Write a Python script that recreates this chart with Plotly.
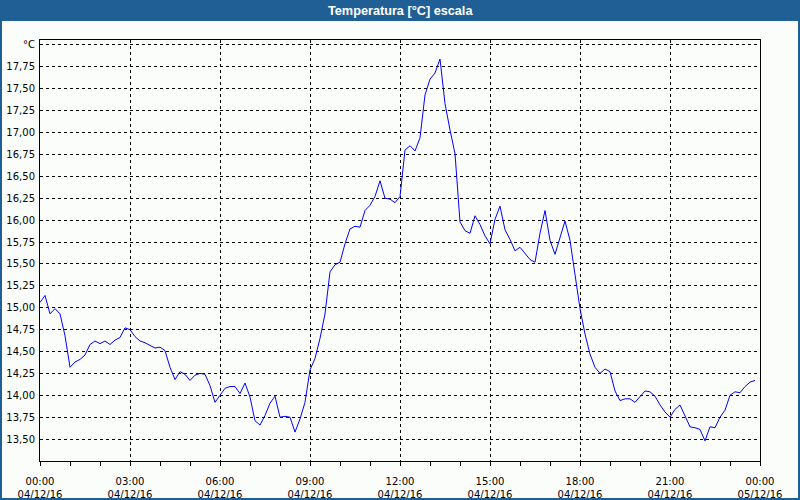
import pandas as pd
import plotly.graph_objects as go

# ---- data ----
start_time = "2016-12-04 00:00"
interval_minutes = 10
temperature = [
    15.06, 15.14, 14.93, 14.99, 14.93, 14.68, 14.32, 14.38, 14.41, 14.46,
    14.58, 14.62, 14.59, 14.62, 14.58, 14.63, 14.66, 14.77, 14.75, 14.67,
    14.62, 14.60, 14.57, 14.54, 14.55, 14.51, 14.32, 14.18, 14.27, 14.24,
    14.17, 14.23, 14.25, 14.24, 14.11, 13.92, 14.00, 14.08, 14.10, 14.10,
    14.02, 14.14, 13.98, 13.71, 13.66, 13.77, 13.91, 13.99, 13.75, 13.76,
    13.75, 13.58, 13.73, 13.92, 14.29, 14.42, 14.65, 14.93, 15.41, 15.49,
    15.52, 15.73, 15.90, 15.93, 15.92, 16.11, 16.17, 16.27, 16.45, 16.25,
    16.24, 16.20, 16.27, 16.80, 16.85, 16.79, 16.94, 17.43, 17.61, 17.68,
    17.84, 17.33, 17.03, 16.76, 15.98, 15.88, 15.85, 16.05, 15.95, 15.82,
    15.73, 16.01, 16.16, 15.89, 15.78, 15.65, 15.69, 15.62, 15.55, 15.52,
    15.85, 16.11, 15.77, 15.61, 15.81, 15.99, 15.77, 15.35, 14.99, 14.70,
    14.47, 14.32, 14.25, 14.30, 14.27, 14.05, 13.94, 13.96, 13.96, 13.92,
    13.99, 14.05, 14.04, 13.99, 13.89, 13.81, 13.75, 13.84, 13.89, 13.77,
    13.64, 13.63, 13.61, 13.48, 13.64, 13.63, 13.75, 13.83, 14.00, 14.04,
    14.03, 14.10, 14.15, 14.17,
]
times = pd.date_range(start_time, periods=len(temperature), freq=f"{interval_minutes}min")

x_tick_vals = ["2016-12-04 00:00", "2016-12-04 03:00", "2016-12-04 06:00",
               "2016-12-04 09:00", "2016-12-04 12:00", "2016-12-04 15:00",
               "2016-12-04 18:00", "2016-12-04 21:00", "2016-12-05 00:00"]
x_tick_text = ["00:00<br>04/12/16", "03:00<br>04/12/16", "06:00<br>04/12/16",
               "09:00<br>04/12/16", "12:00<br>04/12/16", "15:00<br>04/12/16",
               "18:00<br>04/12/16", "21:00<br>04/12/16", "00:00<br>05/12/16"]
y_tick_vals = [13.50, 13.75, 14.00, 14.25, 14.50, 14.75, 15.00, 15.25, 15.50,
               15.75, 16.00, 16.25, 16.50, 16.75, 17.00, 17.25, 17.50, 17.75, 18.00]
y_unit_label = "°C"
y_tick_text = [f"{v:.2f}".replace(".", ",") for v in y_tick_vals[:-1]] + [y_unit_label]
title_text = "Temperatura [°C] escala"

# ---- figure ----
W, H = 800, 500
ML, MR, MT, MB = 40, 40, 40, 39
PW, PH = W - ML - MR, H - MT - MB
BLUE = "#1f5f96"
BG = "#fbfdfb"

def px_x(px):
    return (px - ML) / PW

def px_y(py):
    return (H - MB - py) / PH

fig = go.Figure()
fig.add_trace(go.Scatter(x=times, y=temperature, mode="lines",
                         line=dict(color="#0000ff", width=1), hoverinfo="x+y"))

fig.update_layout(
    width=W, height=H,
    margin=dict(l=ML, r=MR, t=MT, b=MB, pad=0, autoexpand=False),
    paper_bgcolor=BG, plot_bgcolor=BG,
    showlegend=False,
    font=dict(family="DejaVu Sans", size=10, color="#000000"),
    xaxis=dict(
        range=["2016-12-04 00:00", "2016-12-05 00:00"],
        tickmode="array", tickvals=x_tick_vals, ticktext=x_tick_text,
        ticks="", showline=True, linecolor="black", linewidth=1, mirror=True,
        showgrid=True, gridcolor="black", gridwidth=1, griddash="3px,3px",
        zeroline=False, ticklabelstandoff=11, automargin=False,
        minor=dict(tick0="2016-12-04 00:00", dtick=3600000, ticks="outside",
                   ticklen=4, tickcolor="black", tickwidth=1, showgrid=False),
    ),
    yaxis=dict(
        range=[13.25, 18.057],
        tickmode="array", tickvals=y_tick_vals, ticktext=y_tick_text,
        ticks="", showline=True, linecolor="black", linewidth=1, mirror=True,
        showgrid=True, gridcolor="black", gridwidth=1, griddash="3px,3px",
        zeroline=False, ticklabelstandoff=2, automargin=False,
    ),
)

# window frame: title bar and borders
shapes = [
    dict(type="rect", xref="paper", yref="paper", x0=px_x(0), x1=px_x(W),
         y0=px_y(21), y1=px_y(0), fillcolor=BLUE, line=dict(width=0), layer="above"),
    dict(type="rect", xref="paper", yref="paper", x0=px_x(0), x1=px_x(2),
         y0=px_y(H), y1=px_y(0), fillcolor=BLUE, line=dict(width=0), layer="above"),
    dict(type="rect", xref="paper", yref="paper", x0=px_x(W - 2), x1=px_x(W),
         y0=px_y(H), y1=px_y(0), fillcolor=BLUE, line=dict(width=0), layer="above"),
    dict(type="rect", xref="paper", yref="paper", x0=px_x(0), x1=px_x(W),
         y0=px_y(H), y1=px_y(H - 2), fillcolor=BLUE, line=dict(width=0), layer="above"),
]
fig.update_layout(shapes=shapes)
fig.add_annotation(text=f"<b>{title_text}</b>", xref="paper", yref="paper",
                   x=0.5, y=px_y(10.5), xanchor="center", yanchor="middle",
                   showarrow=False,
                   font=dict(family="Liberation Sans", size=12.7, color="white"))

fig.write_html("out.html")
